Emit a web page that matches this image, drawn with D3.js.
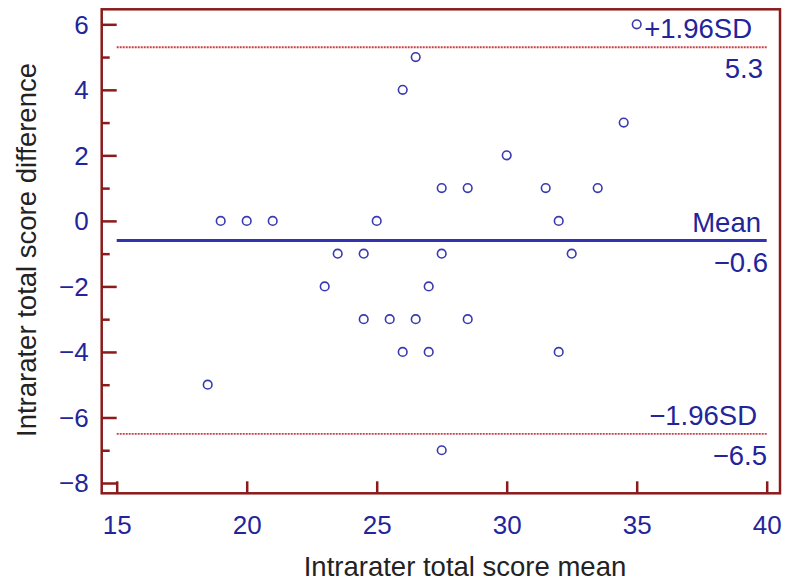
<!DOCTYPE html>
<html>
<head>
<meta charset="utf-8">
<script src="https://d3js.org/d3.v7.min.js"></script>
<style>
    body { margin: 0; background: #fff; }
    text { font-family: "Liberation Sans", Arial, sans-serif; }
    .tickText { fill: #24249a; font-size: 26px; }
    .refText { fill: #24249a; font-size: 27.5px; }
    .axisText { fill: #222; font-size: 27.5px; }
</style>
</head>
<body>
<div id="plot"></div>
<script>
// Bland-Altman data: mean of two ratings vs difference
let scoreMean = [18.5, 19, 20, 21, 23, 23.5, 24.5, 24.5, 25, 25.5, 26, 26, 26.5, 26.5,
    27, 27, 27.5, 27.5, 27.5, 28.5, 28.5, 30, 31.5, 32, 32, 32.5, 33.5, 34.5, 35];
let scoreDiff = [-5, 0, 0, 0, -2, -1, -1, -3, 0, -3, 4, -4, 5, -3,
    -2, -4, 1, -1, -7, 1, -3, 2, 1, 0, -4, -1, 1, 3, 6];

let xTicks = [15, 20, 25, 30, 35, 40];
let yTicks = [-8, -6, -4, -2, 0, 2, 4, 6];
let yMinorTicks = [-7, -5, -3, -1, 1, 3, 5];

let refNames = ['+1.96SD', 'Mean', '\u22121.96SD'];
let refValues = [5.3, -0.6, -6.5];
let refLabels = ['5.3', '\u22120.6', '\u22126.5'];

let svgWidth = 787;
let svgHeight = 587;

let box = { left: 101.7, right: 780, top: 9.3, bottom: 493.3 };

let $svg = d3.select('#plot')
    .append('svg')
    .attr('width', svgWidth)
    .attr('height', svgHeight);

let xScale = d3.scaleLinear()
    .domain([15, 40])
    .range([116.7, 766.7]);

let yScale = d3.scaleLinear()
    .domain([-8, 6])
    .range([483, 24.3]);

let fmt = d => d < 0 ? '\u2212' + Math.abs(d) : String(d);

// Frame
$svg.append('rect')
    .attr('x', box.left)
    .attr('y', box.top)
    .attr('width', box.right - box.left)
    .attr('height', box.bottom - box.top)
    .attr('fill', 'none')
    .attr('stroke', '#8b1a1a')
    .attr('stroke-width', 2.5);

// Axes (ticks point inward)
let leftAxis = d3.axisLeft(yScale)
    .tickValues(yTicks)
    .tickSize(-15)
    .tickPadding(13)
    .tickFormat(fmt);

let yAxisG = $svg.append('g')
    .attr('transform', `translate(${box.left}, 0)`)
    .call(leftAxis);

let yMinorG = $svg.append('g')
    .attr('transform', `translate(${box.left}, 0)`)
    .call(d3.axisLeft(yScale).tickValues(yMinorTicks).tickSize(-8).tickFormat(''));

let bottomAxis = d3.axisBottom(xScale)
    .tickValues(xTicks)
    .tickSize(-12)
    .tickPadding(22)
    .tickFormat(fmt);

let xAxisG = $svg.append('g')
    .attr('transform', `translate(0, ${box.bottom})`)
    .call(bottomAxis);

[yAxisG, yMinorG, xAxisG].forEach(g => {
    g.select('.domain').remove();
    g.selectAll('line').attr('stroke', '#8b1a1a').attr('stroke-width', 2.5);
    g.selectAll('text').attr('class', 'tickText').attr('font-family', null).attr('font-size', null);
});
yAxisG.selectAll('text').attr('dy', '0.34em');

// Reference lines
$svg.selectAll('.refLine')
    .data(refValues)
    .enter()
    .append('line')
    .attr('class', 'refLine')
    .attr('x1', xScale(15))
    .attr('x2', xScale(40))
    .attr('y1', d => yScale(d))
    .attr('y2', d => yScale(d))
    .attr('stroke', (d, i) => i === 1 ? '#3333b0' : '#c8404a')
    .attr('stroke-width', (d, i) => i === 1 ? 3 : 1.8)
    .attr('stroke-dasharray', (d, i) => i === 1 ? null : '2,1');

let nameRight = [752, 761, 757];
let valueRight = [763, 768, 767];

$svg.selectAll('.refName')
    .data(refValues)
    .enter()
    .append('text')
    .attr('class', 'refText')
    .attr('x', (d, i) => nameRight[i])
    .attr('y', d => yScale(d) - 9)
    .attr('text-anchor', 'end')
    .text((d, i) => refNames[i]);

$svg.selectAll('.refValue')
    .data(refValues)
    .enter()
    .append('text')
    .attr('class', 'refText')
    .attr('x', (d, i) => valueRight[i])
    .attr('y', d => yScale(d) + 31)
    .attr('text-anchor', 'end')
    .text((d, i) => refLabels[i]);

// Points
$svg.selectAll('circle')
    .data(scoreMean)
    .enter()
    .append('circle')
    .attr('cx', d => xScale(d))
    .attr('cy', (d, i) => yScale(scoreDiff[i]))
    .attr('r', 4.3)
    .attr('fill', 'none')
    .attr('stroke', '#3a3ab0')
    .attr('stroke-width', 1.6);

// Axis titles
$svg.append('text')
    .attr('class', 'axisText')
    .attr('x', 465)
    .attr('y', 576)
    .attr('text-anchor', 'middle')
    .text('Intrarater total score mean');

$svg.append('text')
    .attr('class', 'axisText')
    .attr('transform', 'rotate(-90)')
    .attr('x', -250)
    .attr('y', 36)
    .attr('text-anchor', 'middle')
    .text('Intrarater total score difference');
</script>
</body>
</html>
